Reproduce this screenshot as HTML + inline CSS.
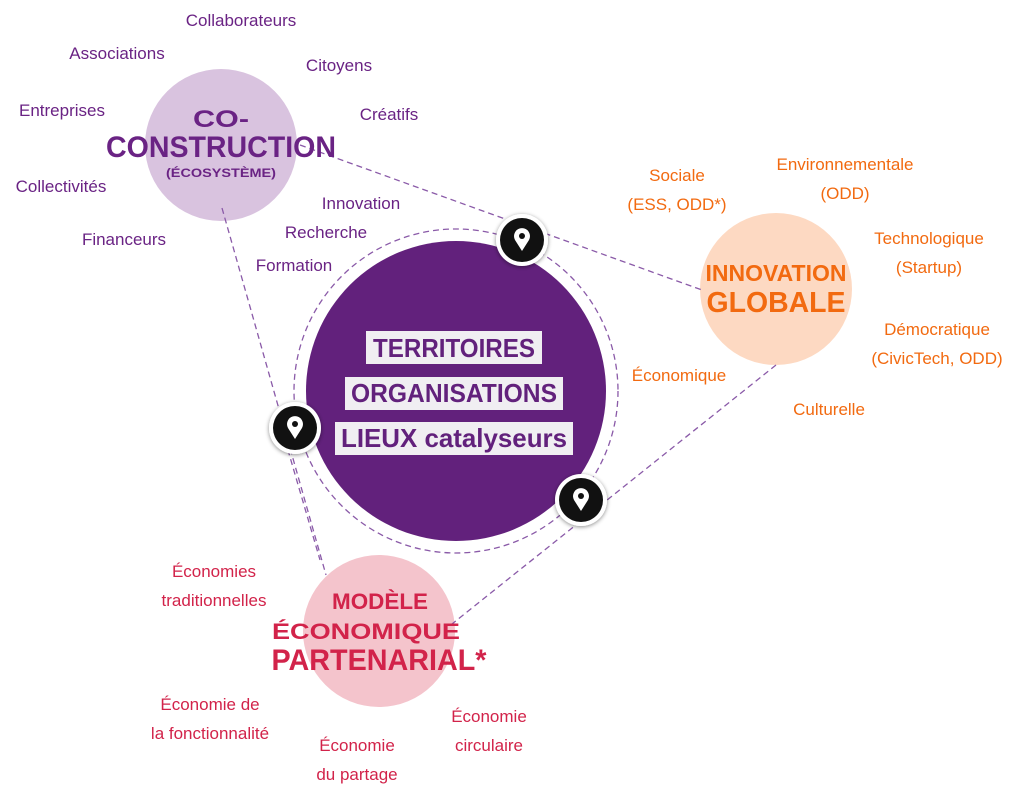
<!DOCTYPE html>
<html><head><meta charset="utf-8"><style>
html,body{margin:0;padding:0;background:#fff;}
svg{display:block;font-family:"Liberation Sans",sans-serif;}
.p{fill:#6a2384;font-size:17px;}
.o{fill:#f26a10;font-size:17px;}
.r{fill:#d2234a;font-size:17px;}
</style></head><body>
<svg width="1024" height="800" viewBox="0 0 1024 800" xmlns="http://www.w3.org/2000/svg">
<defs><filter id="sh" x="-50%" y="-50%" width="200%" height="200%"><feDropShadow dx="0" dy="1" stdDeviation="2" flood-opacity="0.45"/></filter></defs>
<circle cx="221" cy="145" r="76" fill="#d9c3df"/>
<circle cx="776" cy="289" r="76" fill="#fdd9c2"/>
<circle cx="379" cy="631" r="76" fill="#f4c4cc"/>
<g stroke="#8a5aa8" stroke-width="1.3" stroke-dasharray="6,4" fill="none">
<line x1="300" y1="145" x2="702" y2="290"/>
<line x1="222" y1="208" x2="326" y2="575"/>
<line x1="285" y1="440" x2="320" y2="560"/>
<line x1="776" y1="365" x2="452" y2="624"/>
<circle cx="456" cy="391" r="162"/>
</g>
<circle cx="456" cy="391" r="150" fill="#62217c"/>
<g font-weight="bold" fill="#62217c" font-size="26" text-anchor="middle">
<rect x="366" y="331" width="176" height="33" fill="#f0eef2"/>
<rect x="345" y="377" width="218" height="33" fill="#f0eef2"/>
<rect x="335" y="422" width="238" height="33" fill="#f0eef2"/>
<text x="454" y="357" textLength="162" lengthAdjust="spacingAndGlyphs">TERRITOIRES</text>
<text x="454" y="402" textLength="206" lengthAdjust="spacingAndGlyphs">ORGANISATIONS</text>
<text x="454" y="447" textLength="226" lengthAdjust="spacingAndGlyphs">LIEUX catalyseurs</text>
</g>
<g>
<g transform="translate(522,240)"><circle r="26" fill="#fff" filter="url(#sh)"/><circle r="22" fill="#111"/><path d="M0,11 L-7,0 A8,8 0 1 1 7,0 Z" fill="#fff"/><circle cx="0" cy="-4" r="3" fill="#111"/></g>
<g transform="translate(295,428)"><circle r="26" fill="#fff" filter="url(#sh)"/><circle r="22" fill="#111"/><path d="M0,11 L-7,0 A8,8 0 1 1 7,0 Z" fill="#fff"/><circle cx="0" cy="-4" r="3" fill="#111"/></g>
<g transform="translate(581,500)"><circle r="26" fill="#fff" filter="url(#sh)"/><circle r="22" fill="#111"/><path d="M0,11 L-7,0 A8,8 0 1 1 7,0 Z" fill="#fff"/><circle cx="0" cy="-4" r="3" fill="#111"/></g>
</g>
<g text-anchor="middle" font-weight="bold">
<text x="221" y="127" fill="#6a2384" font-size="24" textLength="56" lengthAdjust="spacingAndGlyphs">CO-</text>
<text x="221" y="157" fill="#6a2384" font-size="30" textLength="230" lengthAdjust="spacingAndGlyphs">CONSTRUCTION</text>
<text x="221" y="177" fill="#6a2384" font-size="12" textLength="110" lengthAdjust="spacingAndGlyphs">(ÉCOSYSTÈME)</text>
<text x="776" y="281" fill="#f26a10" font-size="23" textLength="141" lengthAdjust="spacingAndGlyphs">INNOVATION</text>
<text x="776" y="312" fill="#f26a10" font-size="29" textLength="139" lengthAdjust="spacingAndGlyphs">GLOBALE</text>
<text x="380" y="609" fill="#d2234a" font-size="22" textLength="96" lengthAdjust="spacingAndGlyphs">MODÈLE</text>
<text x="366" y="639" fill="#d2234a" font-size="22" textLength="188" lengthAdjust="spacingAndGlyphs">ÉCONOMIQUE</text>
<text x="379" y="670" fill="#d2234a" font-size="30" textLength="215" lengthAdjust="spacingAndGlyphs">PARTENARIAL*</text>
</g>
<g text-anchor="middle">
<text class="p" x="241" y="26">Collaborateurs</text>
<text class="p" x="117" y="59">Associations</text>
<text class="p" x="339" y="71">Citoyens</text>
<text class="p" x="62" y="116">Entreprises</text>
<text class="p" x="389" y="120">Créatifs</text>
<text class="p" x="61" y="192">Collectivités</text>
<text class="p" x="361" y="209">Innovation</text>
<text class="p" x="124" y="245">Financeurs</text>
<text class="p" x="326" y="238">Recherche</text>
<text class="p" x="294" y="271">Formation</text>
<text class="o" x="677" y="181">Sociale</text>
<text class="o" x="677" y="210">(ESS, ODD*)</text>
<text class="o" x="845" y="170">Environnementale</text>
<text class="o" x="845" y="199">(ODD)</text>
<text class="o" x="929" y="244">Technologique</text>
<text class="o" x="929" y="273">(Startup)</text>
<text class="o" x="937" y="335">Démocratique</text>
<text class="o" x="937" y="364">(CivicTech, ODD)</text>
<text class="o" x="679" y="381">Économique</text>
<text class="o" x="829" y="415">Culturelle</text>
<text class="r" x="214" y="577">Économies</text>
<text class="r" x="214" y="606">traditionnelles</text>
<text class="r" x="210" y="710">Économie de</text>
<text class="r" x="210" y="739">la fonctionnalité</text>
<text class="r" x="357" y="751">Économie</text>
<text class="r" x="357" y="780">du partage</text>
<text class="r" x="489" y="722">Économie</text>
<text class="r" x="489" y="751">circulaire</text>
</g>
</svg>
</body></html>
